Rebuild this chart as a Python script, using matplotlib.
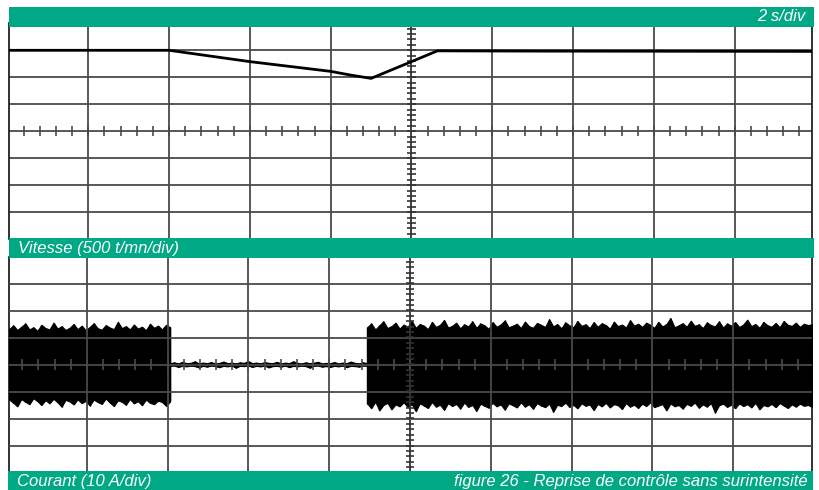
import numpy as np
import matplotlib
matplotlib.use("Agg")
import matplotlib.pyplot as plt
from matplotlib.patches import Rectangle

# ---------------- data (in screen divisions) ----------------
vitesse_t = [-4.98, -3.0, -2.0, -1.0, -0.75, -0.50, 0.0, 0.32, 1.5, 4.96]
vitesse_v = [3.0, 3.0, 2.58, 2.22, 2.08, 1.96, 2.58, 2.98, 2.97, 2.96]

courant_g_haut = [1.32, 1.45, 1.28, 1.40, 1.52, 1.30, 1.38, 1.25, 1.47, 1.35,
                  1.30, 1.55, 1.33, 1.42, 1.28, 1.36, 1.50, 1.31, 1.44, 1.27,
                  1.39, 1.53, 1.34, 1.29, 1.46, 1.37, 1.31, 1.58, 1.35, 1.42,
                  1.30, 1.48, 1.33, 1.40, 1.27, 1.51, 1.36, 1.44, 1.30, 1.47, 1.38]
courant_g_bas = [-1.30, -1.42, -1.55, -1.28, -1.38, -1.47, -1.25, -1.36, -1.50, -1.32,
                 -1.44, -1.27, -1.40, -1.56, -1.31, -1.37, -1.48, -1.29, -1.43, -1.35,
                 -1.52, -1.30, -1.39, -1.46, -1.26, -1.41, -1.54, -1.33, -1.38, -1.49,
                 -1.28, -1.44, -1.36, -1.51, -1.30, -1.42, -1.47, -1.34, -1.39, -1.53, -1.37]
courant_m_haut = [0.05, 0.08, 0.04, 0.10, 0.05, 0.06, 0.12, 0.04, 0.07, 0.05,
                  0.09, 0.04, 0.06, 0.11, 0.05, 0.07, 0.04, 0.08, 0.06, 0.13,
                  0.05, 0.07, 0.04, 0.09, 0.06, 0.05, 0.10, 0.04, 0.07, 0.05,
                  0.12, 0.06, 0.04, 0.08, 0.05, 0.07, 0.10, 0.04, 0.06, 0.05,
                  0.09, 0.04, 0.07, 0.05, 0.11, 0.06, 0.04, 0.08, 0.05]
courant_m_bas = [-0.05, -0.04, -0.09, -0.05, -0.07, -0.04, -0.06, -0.11, -0.05, -0.08,
                 -0.04, -0.06, -0.10, -0.05, -0.07, -0.04, -0.12, -0.05, -0.06, -0.04,
                 -0.09, -0.05, -0.07, -0.04, -0.11, -0.06, -0.05, -0.08, -0.04, -0.10,
                 -0.05, -0.07, -0.04, -0.06, -0.12, -0.05, -0.04, -0.08, -0.06, -0.09,
                 -0.05, -0.07, -0.04, -0.10, -0.05, -0.06, -0.08, -0.04, -0.05]
courant_d_haut = [1.38, 1.52, 1.30, 1.45, 1.60, 1.35, 1.42, 1.55, 1.33, 1.48,
                  1.40, 1.62, 1.36, 1.50, 1.44, 1.31, 1.58, 1.39, 1.47, 1.65,
                  1.37, 1.43, 1.55, 1.34, 1.49, 1.41, 1.60, 1.36, 1.52, 1.45,
                  1.32, 1.57, 1.40, 1.48, 1.63, 1.38, 1.44, 1.51, 1.35, 1.59,
                  1.42, 1.36, 1.54, 1.47, 1.39, 1.68, 1.41, 1.50, 1.34, 1.56,
                  1.45, 1.38, 1.61, 1.43, 1.49, 1.35, 1.57, 1.40, 1.53, 1.46,
                  1.33, 1.59, 1.42, 1.48, 1.37, 1.64, 1.44, 1.51, 1.39, 1.55,
                  1.47, 1.36, 1.58, 1.41, 1.50, 1.72, 1.38, 1.45, 1.53, 1.40,
                  1.62, 1.43, 1.49, 1.35, 1.56, 1.46, 1.41, 1.60, 1.37, 1.52,
                  1.44, 1.57, 1.39, 1.48, 1.66, 1.42, 1.50, 1.36, 1.58, 1.45,
                  1.40, 1.54, 1.38, 1.61, 1.47, 1.43, 1.55, 1.39, 1.51, 1.46, 1.49]
courant_d_bas = [-1.45, -1.62, -1.38, -1.70, -1.50, -1.42, -1.66, -1.48, -1.55, -1.40,
                 -1.58, -1.47, -1.73, -1.44, -1.52, -1.61, -1.39, -1.56, -1.49, -1.68,
                 -1.43, -1.54, -1.46, -1.63, -1.41, -1.57, -1.50, -1.72, -1.45, -1.53,
                 -1.60, -1.42, -1.55, -1.48, -1.67, -1.44, -1.51, -1.59, -1.40, -1.56,
                 -1.47, -1.64, -1.43, -1.52, -1.58, -1.45, -1.75, -1.49, -1.54, -1.41,
                 -1.57, -1.50, -1.62, -1.44, -1.53, -1.48, -1.69, -1.46, -1.55, -1.42,
                 -1.59, -1.47, -1.51, -1.65, -1.43, -1.56, -1.49, -1.61, -1.45, -1.54,
                 -1.40, -1.58, -1.52, -1.47, -1.70, -1.44, -1.55, -1.50, -1.63, -1.46,
                 -1.53, -1.41, -1.60, -1.48, -1.56, -1.43, -1.78, -1.51, -1.45, -1.57,
                 -1.49, -1.62, -1.44, -1.54, -1.47, -1.59, -1.42, -1.66, -1.50, -1.55,
                 -1.46, -1.58, -1.43, -1.52, -1.61, -1.48, -1.56, -1.45, -1.53, -1.50, -1.57]

segments_t = [(-4.96, -2.97), (-2.97, -0.53), (-0.53, 4.975)]

titre_haut = "2 s/div"
titre_vitesse = "Vitesse (500 t/mn/div)"
titre_courant = "Courant (10 A/div)"
titre_figure = "figure 26 - Reprise de contrôle sans surintensité"

# ---------------- layout ----------------
W, H = 820, 490
GREEN = "#00A886"
GRID = "#4a4a4a"

fig = plt.figure(figsize=(W / 100, H / 100), dpi=100)
fig.patch.set_facecolor("white")


def px_rect(x0, y0, x1, y1):
    return [x0 / W, 1 - y1 / H, (x1 - x0) / W, (y1 - y0) / H]


ax_top = fig.add_axes(px_rect(9.3, 23.3, 812, 239.3))
ax_bot = fig.add_axes(px_rect(9.3, 256.5, 812, 472.5))


def graticule(ax, z):
    for v in range(-4, 5):
        ax.axvline(v, color=GRID if v else "#333333", lw=1.3, zorder=z)
    for h in range(-3, 4):
        ax.axhline(h, color=GRID, lw=1.3, zorder=z)
    xt = np.arange(-5, 5.001, 0.2)
    ax.vlines(xt, -0.19, 0.19, color=GRID, lw=1.2, zorder=z)
    yt = np.arange(-4, 4.001, 0.2)
    ax.hlines(yt, -0.055, 0.055, color="#333333", lw=1.2, zorder=z)
    ax.set_ylim(-4, 4)
    ax.set_xticks([])
    ax.set_yticks([])
    for s in ("top", "bottom"):
        ax.spines[s].set_visible(False)
    for s in ("left", "right"):
        ax.spines[s].set_color("#222222")
        ax.spines[s].set_linewidth(1.3)


graticule(ax_top, 2)
ax_top.set_xlim(-4.978, 4.957)
ax_top.plot(vitesse_t, vitesse_v, color="black", lw=2.0, zorder=5)

graticule(ax_bot, 4)
ax_bot.set_xlim(-4.96, 4.975)
for (a, b), up, lo in zip(segments_t,
                          [courant_g_haut, courant_m_haut, courant_d_haut],
                          [courant_g_bas, courant_m_bas, courant_d_bas]):
    t = np.linspace(a, b, len(up))
    ax_bot.fill_between(t, lo, up, color="black", lw=0.8, edgecolor="black", zorder=3)
    ax_bot.vlines(t, lo, up, color="black", lw=1.0, zorder=3)

# ---------------- green bars ----------------
for (x0, y0, x1, y1) in [(9, 6.7, 814, 26.7), (9, 237.7, 814, 257.7), (8, 470.7, 813, 490)]:
    r = Rectangle((x0 / W, 1 - y1 / H), (x1 - x0) / W, (y1 - y0) / H,
                  transform=fig.transFigure, facecolor=GREEN, edgecolor="none", zorder=10)
    fig.add_artist(r)

tk = dict(color="white", style="italic", fontsize=12, family=["Liberation Sans", "DejaVu Sans"],
          va="baseline", zorder=11)
fig.text(805.7 / W, 1 - 20.7 / H, titre_haut, ha="right", **tk)
fig.text(18 / W, 1 - 252.5 / H, titre_vitesse, ha="left", **tk)
fig.text(16.7 / W, 1 - 486 / H, titre_courant, ha="left", **tk)
fig.text(807.3 / W, 1 - 486 / H, titre_figure, ha="right", **tk)

fig.savefig("out.png", dpi=100)
